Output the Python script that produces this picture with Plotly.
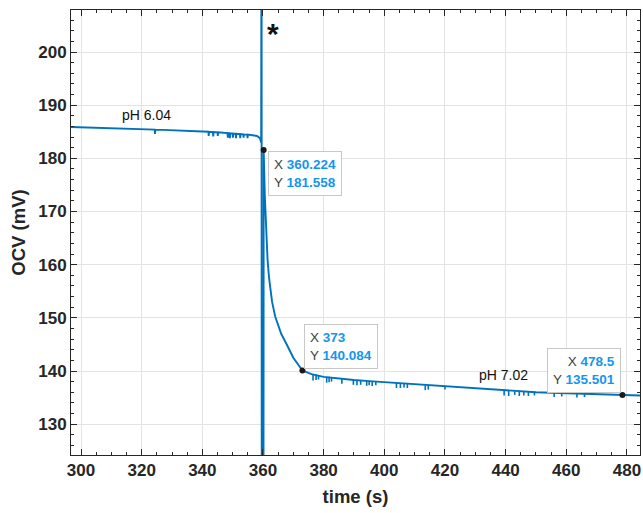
import plotly.graph_objects as go

# ---- data ----
time_s = [296.7, 300, 305, 310, 315, 320, 323.0, 324.3, 324.4, 324.5, 327, 330, 335, 340,
          342.0, 342.1, 342.2, 343.5, 343.6, 343.7, 345.0, 345.1, 345.2, 347,
          348.3, 348.4, 348.5, 349.0, 349.1, 349.2, 350.0, 350.1, 350.2, 351.0, 351.1, 351.2,
          352.4, 352.5, 352.6, 353.5, 353.6, 353.7, 354.8, 354.9, 355.0, 356.5, 358.0, 359.0, 359.4,
          359.5, 359.6, 360.15, 360.224, 360.6, 361.0, 361.5, 362.0, 363.0, 364.0, 365.0, 366.0,
          368.0, 370.0, 373.0, 376.0, 380.0, 385.0, 390.0, 395.0, 400.0, 405.0, 410.0, 415.0,
          420.0, 425.0, 430.0, 435.0, 440.0, 445.0, 450.0, 455.0, 460.0, 465.0, 470.0, 475.0,
          478.5, 484.3]
ocv_mV = [185.9, 185.85, 185.75, 185.7, 185.6, 185.5, 185.45, 185.4, 184.6, 185.4, 185.35, 185.3, 185.2, 185.1,
          185.0, 184.2, 185.0, 184.95, 184.1, 184.95, 184.9, 184.2, 184.9, 184.8,
          184.75, 183.9, 184.75, 184.7, 183.8, 184.7, 184.65, 183.9, 184.65, 184.6, 183.8, 184.6,
          184.55, 183.8, 184.55, 184.5, 183.9, 184.5, 184.45, 183.8, 184.45, 184.35, 184.2, 183.8, 183.0,
          230.0, 100.0, 100.0, 181.558, 173.0, 166.0, 161.0, 157.5, 153.0, 150.3, 148.5, 147.0,
          144.8, 142.5, 140.084, 139.4, 138.9, 138.55, 138.3, 138.1, 137.9, 137.7, 137.5, 137.3,
          137.1, 136.9, 136.7, 136.5, 136.3, 136.15, 136.0, 135.9, 135.8, 135.7, 135.6, 135.55,
          135.501, 135.4]

# small downward glitches after the step (time, upper value, lower value)
glitch_t = [376.5, 377.5, 378.3, 381.0, 381.8, 382.6, 386.0, 389.8, 391.0, 392.2, 394.2, 395.0,
            396.0, 397.2, 404.0, 405.3, 406.5, 407.6, 413.5, 414.5, 420.0, 439.5, 441.0, 443.0,
            444.5, 446.0, 447.5, 449.5, 456.0, 458.5, 463.5, 466.0]
glitch_hi = [139.3, 139.3, 139.2, 138.9, 138.9, 138.85, 138.55, 138.35, 138.3, 138.25, 138.15, 138.1,
             138.1, 138.0, 137.75, 137.7, 137.65, 137.6, 137.3, 137.25, 137.1, 136.3, 136.3, 136.2,
             136.15, 136.1, 136.05, 136.0, 135.9, 135.85, 135.75, 135.7]
glitch_lo = [138.2, 138.3, 138.4, 137.8, 137.9, 138.0, 137.6, 137.4, 137.3, 137.4, 137.2, 137.3,
             137.2, 137.3, 136.8, 136.8, 136.9, 136.8, 136.4, 136.5, 136.5, 135.4, 135.3, 135.5,
             135.3, 135.4, 135.3, 135.4, 135.1, 135.2, 135.0, 135.1]

tip_x = [360.224, 373, 478.5]
tip_y = [181.558, 140.084, 135.501]
tip_x_text = ["360.224", "373", "478.5"]
tip_y_text = ["181.558", "140.084", "135.501"]

label_text = ["pH 6.04", "pH 7.02"]
label_x = [321.7, 439.4]
label_y = [188.2, 139.2]

LINE = "#0072BD"
TIPBLUE = "#1496f0"
FONT = "Liberation Sans, Arial, Helvetica, sans-serif"

fig = go.Figure()
fig.add_trace(go.Scatter(x=time_s, y=ocv_mV, mode="lines",
                         line=dict(color=LINE, width=1.9), hoverinfo="skip"))

gx, gy = [], []
for t, hi, lo in zip(glitch_t, glitch_hi, glitch_lo):
    gx += [t, t, None]
    gy += [hi, lo, None]
fig.add_trace(go.Scatter(x=gx, y=gy, mode="lines",
                         line=dict(color=LINE, width=1.6), hoverinfo="skip"))

fig.add_trace(go.Scatter(x=tip_x, y=tip_y, mode="markers",
                         marker=dict(color="#1a1a1a", size=6), hoverinfo="skip"))

# data tips
anchors = [("left", "top", 4, -1, "left"),
           ("left", "bottom", 2, 2, "left"),
           ("right", "bottom", -1, 2, "right")]
for (xa, ya, xs, ys, al), x, y, xt, yt in zip(anchors, tip_x, tip_y, tip_x_text, tip_y_text):
    fig.add_annotation(
        x=x, y=y, xref="x", yref="y", showarrow=False,
        xanchor=xa, yanchor=ya, xshift=xs, yshift=ys, align=al,
        text=(f"X <b><span style='color:{TIPBLUE}'>{xt}</span></b><br>"
              f"Y <b><span style='color:{TIPBLUE}'>{yt}</span></b>"),
        font=dict(family=FONT, size=13.5, color="#404040"),
        bgcolor="white", bordercolor="#c8c8c8", borderwidth=1, borderpad=5,
    )

for txt, x, y in zip(label_text, label_x, label_y):
    fig.add_annotation(x=x, y=y, xref="x", yref="y", text=txt, showarrow=False,
                       font=dict(family=FONT, size=14, color="#111111"))

fig.add_annotation(x=363.3, y=203.5, xref="x", yref="y", text="<b>*</b>", showarrow=False,
                   font=dict(family=FONT, size=30, color="#111111"))

axis_common = dict(
    showline=True, linecolor="#262626", linewidth=1, mirror="allticks",
    ticks="inside", ticklen=6, tickcolor="#262626", tickwidth=1,
    showgrid=True, gridcolor="#e3e3e3", gridwidth=1, zeroline=False,
    automargin=False,
    tickfont=dict(family=FONT, size=17, color="#262626", weight="bold"),
)

fig.update_xaxes(range=[296.7, 484.3], dtick=20, tick0=300,
                 minor=dict(dtick=5, ticks="inside", ticklen=3, tickcolor="#262626", showgrid=False),
                 title=dict(text="time (s)", font=dict(family=FONT, size=18.5, color="#262626", weight="bold"),
                            standoff=10),
                 **axis_common)
fig.update_yaxes(range=[124.2, 207.9], dtick=10, tick0=130,
                 minor=dict(dtick=2, ticks="inside", ticklen=3, tickcolor="#262626", showgrid=False),
                 title=dict(text="OCV (mV)", font=dict(family=FONT, size=18.5, color="#262626", weight="bold"),
                            standoff=7),
                 **axis_common)

fig.update_layout(width=643, height=513, showlegend=False,
                  margin=dict(l=71, r=3, t=10, b=58),
                  paper_bgcolor="white", plot_bgcolor="white",
                  font=dict(family=FONT))

# remove the page's default body margin so the figure fills the window exactly
fig.write_html("out.html",
               config={"displayModeBar": False},
               post_script="document.body.style.margin='0';document.body.style.overflow='hidden';")
